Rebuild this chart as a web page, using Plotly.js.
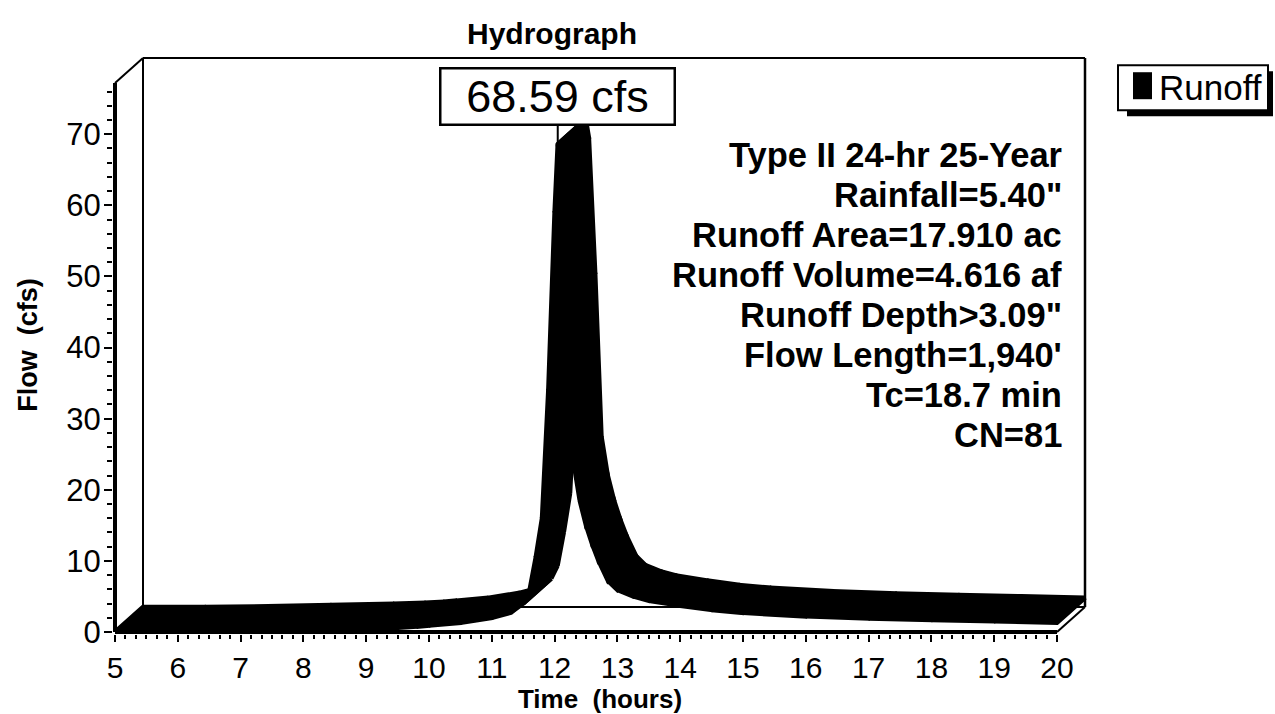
<!DOCTYPE html>
<html><head><meta charset="utf-8">
<script src="https://cdn.plot.ly/plotly-3.0.1.min.js"></script>
<style>html,body{margin:0;padding:0;background:#fff}#chart{width:1275px;height:714px}</style>
</head><body><div id="chart"></div>
<script>
// ---- data ----
const timeHours = [5.0, 6.0, 7.0, 8.0, 9.0, 9.5, 9.8, 10.0, 10.5, 11.0, 11.3, 11.5, 11.6, 11.7, 11.8, 11.9, 12.0, 12.05, 12.1, 12.2, 12.3, 12.4, 12.5, 12.6, 12.7, 12.85, 13.0, 13.25, 13.5, 14.0, 14.5, 15.0, 16.0, 17.0, 18.0, 19.0, 20.0];
const runoffCfs = [0.0, 0.0, 0.1, 0.3, 0.45, 0.6, 0.75, 0.9, 1.3, 2.0, 2.7, 4.0, 5.8, 10.5, 16.0, 34.0, 59.0, 68.59, 66.0, 47.0, 24.0, 18.5, 15.0, 12.3, 10.0, 7.2, 5.9, 5.0, 4.4, 3.7, 3.1, 2.7, 2.2, 1.9, 1.7, 1.5, 1.3];
const xTickVals = [5, 6, 7, 8, 9, 10, 11, 12, 13, 14, 15, 16, 17, 18, 19, 20];
const yTickVals = [0, 10, 20, 30, 40, 50, 60, 70];
const seriesName = 'Runoff';
const peakLabel = '68.59 cfs';
const infoLines = ['Type II 24-hr 25-Year', 'Rainfall=5.40"', 'Runoff Area=17.910 ac', 'Runoff Volume=4.616 af', 'Runoff Depth>3.09"', "Flow Length=1,940'", 'Tc=18.7 min', 'CN=81'];

// ---- geometry (pixels) ----
const FONT = 'Liberation Sans, Arial, sans-serif';
const X5 = 115, X20 = 1057, Y0 = 632, Y70 = 134;
const PXH = (X20 - X5) / 15, PXQ = (Y0 - Y70) / 70;
const DEPX = 28, DEPY = 25;
const DX = DEPX / PXH, DY = DEPY / PXQ;
const YTOP = 77.2;
const PAD = 2;
const plotL = X5 - PAD, plotR = X20 + DEPX + PAD;
const plotB = Y0 + PAD, plotT = Y0 - (YTOP * PXQ + DEPY) - PAD;
const xr = [5 - PAD / PXH, 20 + DX + PAD / PXH];
const yr = [0 - PAD / PXQ, YTOP + DY + PAD / PXQ];
const px = x => (x - plotL) / (plotR - plotL);
const py = y => (plotB - y) / (plotB - plotT);

// ---- 3D ribbon: one parallelogram per segment ----
const rx = [], ry = [];
for (let i = 0; i < timeHours.length - 1; i++) {
  const x1 = timeHours[i], y1 = runoffCfs[i], x2 = timeHours[i + 1], y2 = runoffCfs[i + 1];
  let pts = [[x1, y1], [x2, y2], [x2 + DX, y2 + DY], [x1 + DX, y1 + DY]];
  const cr = (x2 - x1) * DY - (y2 - y1) * DX;
  if (cr < 0) pts = pts.reverse();
  pts.push(pts[0]);
  pts.forEach(p => { rx.push(p[0]); ry.push(p[1]); });
  rx.push(null); ry.push(null);
}
const ribbon = {
  type: 'scatter', mode: 'lines', x: rx, y: ry, name: seriesName,
  fill: 'toself', fillcolor: '#000', line: {color: '#000', width: 4.5},
  connectgaps: false, hoverinfo: 'skip', showlegend: false
};

// ---- frame ----
const L = (x0, y0, x1, y1, w, layer) => ({type: 'line', xref: 'x', yref: 'y', x0, y0, x1, y1, line: {color: '#000', width: w}, layer: layer || 'below'});
const shapes = [
  L(5 + DX, DY, 5 + DX, YTOP + DY, 2),
  L(5 + DX, YTOP + DY, 20 + DX, YTOP + DY, 2),
  L(20 + DX, DY, 20 + DX, YTOP + DY, 2.5),
  L(5 + DX, DY, 20 + DX, DY, 2),
  L(5, YTOP, 5 + DX, YTOP + DY, 2),
  L(5, 0, 5 + DX, DY, 2),
  L(20, 0, 20 + DX, DY, 2),
  L(5, 0, 5, YTOP, 4, 'above'),
  L(5, 0, 20, 0, 4, 'above'),
];
// legend box (drawn)
const R = (x0, y0, x1, y1, fill, lw) => ({type: 'rect', xref: 'paper', yref: 'paper', x0: px(x0), x1: px(x1), y0: py(y1), y1: py(y0), fillcolor: fill, line: {color: '#000', width: lw}, layer: 'above'});
shapes.push(R(1127, 71, 1273, 116, '#000', 0));
shapes.push(R(1118, 65, 1268, 110, '#fff', 2));
shapes.push(R(1133, 72, 1152, 99, '#000', 0));

// ---- ticks ----
const xMinor = [], yMinor = [];
for (let k = 0; k <= 90; k++) { if (k % 6) xMinor.push(5 + k / 6); }
for (let v = 2; v <= 76; v += 2) { if (v % 10) yMinor.push(v); }

// ---- annotations ----
const annotations = [];
const qMax = Math.max(...runoffCfs);
annotations.push({
  x: timeHours[runoffCfs.indexOf(qMax)], y: qMax, xref: 'x', yref: 'y',
  text: peakLabel, showarrow: true, arrowhead: 0, arrowwidth: 2, arrowcolor: '#000', ax: 0, ay: -48,
  font: {family: FONT, size: 45, color: '#000'}, bgcolor: '#fff', bordercolor: '#000', borderwidth: 2.5,
  borderpad: 1, width: 230, height: 52
});
infoLines.forEach((t, i) => annotations.push({
  xref: 'paper', yref: 'paper', x: px(1064), y: py(155 + 40 * i), xanchor: 'right', yanchor: 'middle',
  text: t, showarrow: false, font: {family: FONT, size: 34.5, weight: 700, color: '#000'}
}));
annotations.push({
  xref: 'paper', yref: 'paper', x: px(1157), y: py(87), xanchor: 'left', yanchor: 'middle',
  text: seriesName, showarrow: false, font: {family: FONT, size: 35, color: '#000'}
});

const layout = {
  width: 1275, height: 714, paper_bgcolor: '#fff', plot_bgcolor: '#fff',
  margin: {l: plotL, r: 1275 - plotR, t: plotT, b: 714 - plotB, pad: 0},
  showlegend: false,
  title: {text: 'Hydrograph', font: {family: FONT, size: 30, weight: 700, color: '#000'},
    xref: 'container', yref: 'container', x: 552 / 1275, xanchor: 'center', y: 1 - 33 / 714, yanchor: 'middle'},
  xaxis: {range: xr, showgrid: false, zeroline: false, showline: false, tickmode: 'array', tickvals: xTickVals,
    ticks: 'outside', ticklen: 7, tickwidth: 2, tickcolor: '#000',
    tickfont: {family: FONT, size: 30, color: '#000'},
    minor: {tickmode: 'array', tickvals: xMinor, ticks: 'outside', ticklen: 4, tickwidth: 2, tickcolor: '#000', showgrid: false},
    title: {text: 'Time\u00a0 (hours)', font: {family: FONT, size: 26, weight: 700, color: '#000'}, standoff: 0},
    fixedrange: true},
  yaxis: {range: yr, showgrid: false, zeroline: false, showline: false, tickmode: 'array', tickvals: yTickVals,
    ticks: 'outside', ticklen: 8, tickwidth: 2, tickcolor: '#000', ticklabelstandoff: -3,
    tickfont: {family: FONT, size: 31, color: '#000'},
    minor: {tickmode: 'array', tickvals: yMinor, ticks: 'outside', ticklen: 5, tickwidth: 2, tickcolor: '#000', showgrid: false},
    title: {text: 'Flow\u00a0 (cfs)', font: {family: FONT, size: 27, weight: 700, color: '#000'}, standoff: 20},
    fixedrange: true},
  shapes, annotations
};
Plotly.newPlot('chart', [ribbon], layout, {staticPlot: true, displayModeBar: false});
</script></body></html>
